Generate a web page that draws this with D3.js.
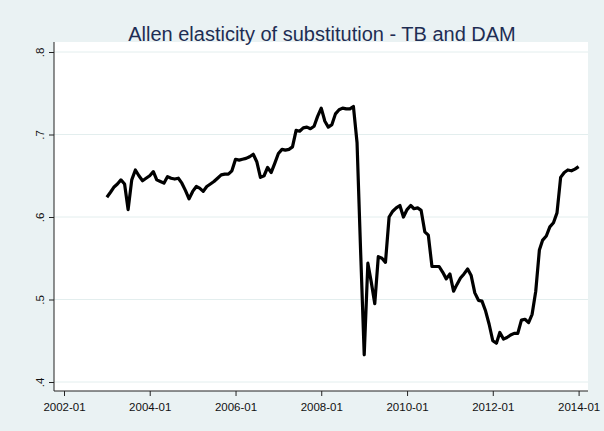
<!DOCTYPE html>
<html>
<head>
<meta charset="utf-8">
<script src="https://cdn.jsdelivr.net/npm/d3@7"></script>
<style>
  html, body { margin: 0; padding: 0; background: #eaf2f3; }
  svg { display: block; font-family: "Liberation Sans", Arial, sans-serif; }
</style>
</head>
<body>
<svg id="chart" width="604" height="431"></svg>
<script>
// Monthly series, 2003-01 through 2014-01
const startMonth = "2003-01";
const elasticity = [
  0.624, 0.630, 0.636, 0.640, 0.645, 0.640, 0.609, 0.645, 0.657, 0.650, 0.644, 0.647,
  0.650, 0.655, 0.645, 0.643, 0.641, 0.649, 0.647, 0.646, 0.647, 0.641, 0.632, 0.622,
  0.631, 0.637, 0.635, 0.631, 0.637, 0.640, 0.643, 0.647, 0.651, 0.652, 0.652, 0.656,
  0.670, 0.669, 0.670, 0.671, 0.673, 0.676, 0.667, 0.648, 0.650, 0.660, 0.654, 0.665,
  0.677, 0.682, 0.681, 0.682, 0.685, 0.705, 0.704, 0.708, 0.709, 0.707, 0.710, 0.722,
  0.732, 0.716, 0.709, 0.712, 0.725, 0.730, 0.732, 0.731, 0.731, 0.734, 0.690, 0.560,
  0.433, 0.544, 0.522, 0.495, 0.552, 0.550, 0.545, 0.600, 0.607, 0.611, 0.614, 0.600,
  0.609, 0.614, 0.610, 0.611, 0.608, 0.582, 0.578, 0.540, 0.540, 0.540, 0.533, 0.525,
  0.531, 0.510, 0.518, 0.526, 0.531, 0.537, 0.529, 0.508, 0.499, 0.498, 0.486, 0.470,
  0.450, 0.447, 0.460, 0.452, 0.454, 0.457, 0.459, 0.459, 0.475, 0.476, 0.472, 0.482,
  0.510, 0.560, 0.572, 0.577, 0.588, 0.593, 0.605, 0.648, 0.654, 0.657, 0.656, 0.658,
  0.661
];
const xTickLabels = ["2002-01", "2004-01", "2006-01", "2008-01", "2010-01", "2012-01", "2014-01"];
const yTickValues = [0.4, 0.5, 0.6, 0.7, 0.8];
const yTickLabels = [".4", ".5", ".6", ".7", ".8"];
const titleText = "Allen elasticity of substitution - TB and DAM";

const parseMonth = d3.timeParse("%Y-%m");
const first = parseMonth(startMonth);
const data = elasticity.map((v, i) => ({ date: d3.timeMonth.offset(first, i), value: v }));
const xTickDates = xTickLabels.map(parseMonth);

const svg = d3.select("#chart");
const W = 604, H = 431;

// plot region
const plot = { left: 54, right: 588, top: 42, bottom: 391 };

svg.append("rect").attr("width", W).attr("height", H).attr("fill", "#eaf2f3");
svg.append("rect")
  .attr("x", plot.left).attr("y", plot.top)
  .attr("width", plot.right - plot.left).attr("height", plot.bottom - plot.top)
  .attr("fill", "#ffffff");

const x = d3.scaleTime()
  .domain([xTickDates[0], xTickDates[xTickDates.length - 1]])
  .range([64, 578.6]);

const y = d3.scaleLinear()
  .domain([0.4, 0.8])
  .range([382, 52]);

// horizontal grid lines
svg.append("g").selectAll("line")
  .data(yTickValues)
  .join("line")
  .attr("x1", plot.left).attr("x2", plot.right)
  .attr("y1", d => y(d)).attr("y2", d => y(d))
  .attr("stroke", "#e3eeee").attr("stroke-width", 1);

// y axis
const yAxis = d3.axisLeft(y)
  .tickValues(yTickValues)
  .tickFormat((d, i) => yTickLabels[i])
  .tickSize(5).tickSizeOuter(0);
const gy = svg.append("g").attr("transform", `translate(${plot.left},0)`).call(yAxis);
gy.select(".domain").remove();
gy.append("line")
  .attr("x1", 0).attr("x2", 0).attr("y1", plot.top).attr("y2", plot.bottom)
  .attr("stroke", "#222").attr("stroke-width", 1);
gy.selectAll(".tick line").attr("stroke", "#222");
gy.selectAll(".tick text")
  .attr("x", 0).attr("y", 0)
  .attr("transform", "translate(-14,0) rotate(-90)")
  .attr("text-anchor", "middle")
  .attr("dy", "0.35em")
  .attr("fill", "#111")
  .style("font-size", "11.5px");

// x axis
const xAxis = d3.axisBottom(x)
  .tickValues(xTickDates)
  .tickFormat((d, i) => xTickLabels[i])
  .tickSize(5).tickSizeOuter(0);
const gx = svg.append("g").attr("transform", `translate(0,${plot.bottom})`).call(xAxis);
gx.select(".domain").remove();
gx.append("line")
  .attr("x1", plot.left).attr("x2", plot.right).attr("y1", 0).attr("y2", 0)
  .attr("stroke", "#222").attr("stroke-width", 1);
gx.selectAll(".tick line").attr("stroke", "#222");
gx.selectAll(".tick text")
  .attr("y", 12)
  .attr("fill", "#111")
  .style("font-size", "11.5px");

// series line
const line = d3.line()
  .x(d => x(d.date))
  .y(d => y(d.value));
svg.append("path")
  .datum(data)
  .attr("d", line)
  .attr("fill", "none")
  .attr("stroke", "#000")
  .attr("stroke-width", 3.2)
  .attr("stroke-linejoin", "round");

// title
svg.append("text")
  .attr("x", 322).attr("y", 41)
  .attr("text-anchor", "middle")
  .attr("fill", "#1e2d53")
  .style("font-size", "20px")
  .text(titleText);
</script>
</body>
</html>
